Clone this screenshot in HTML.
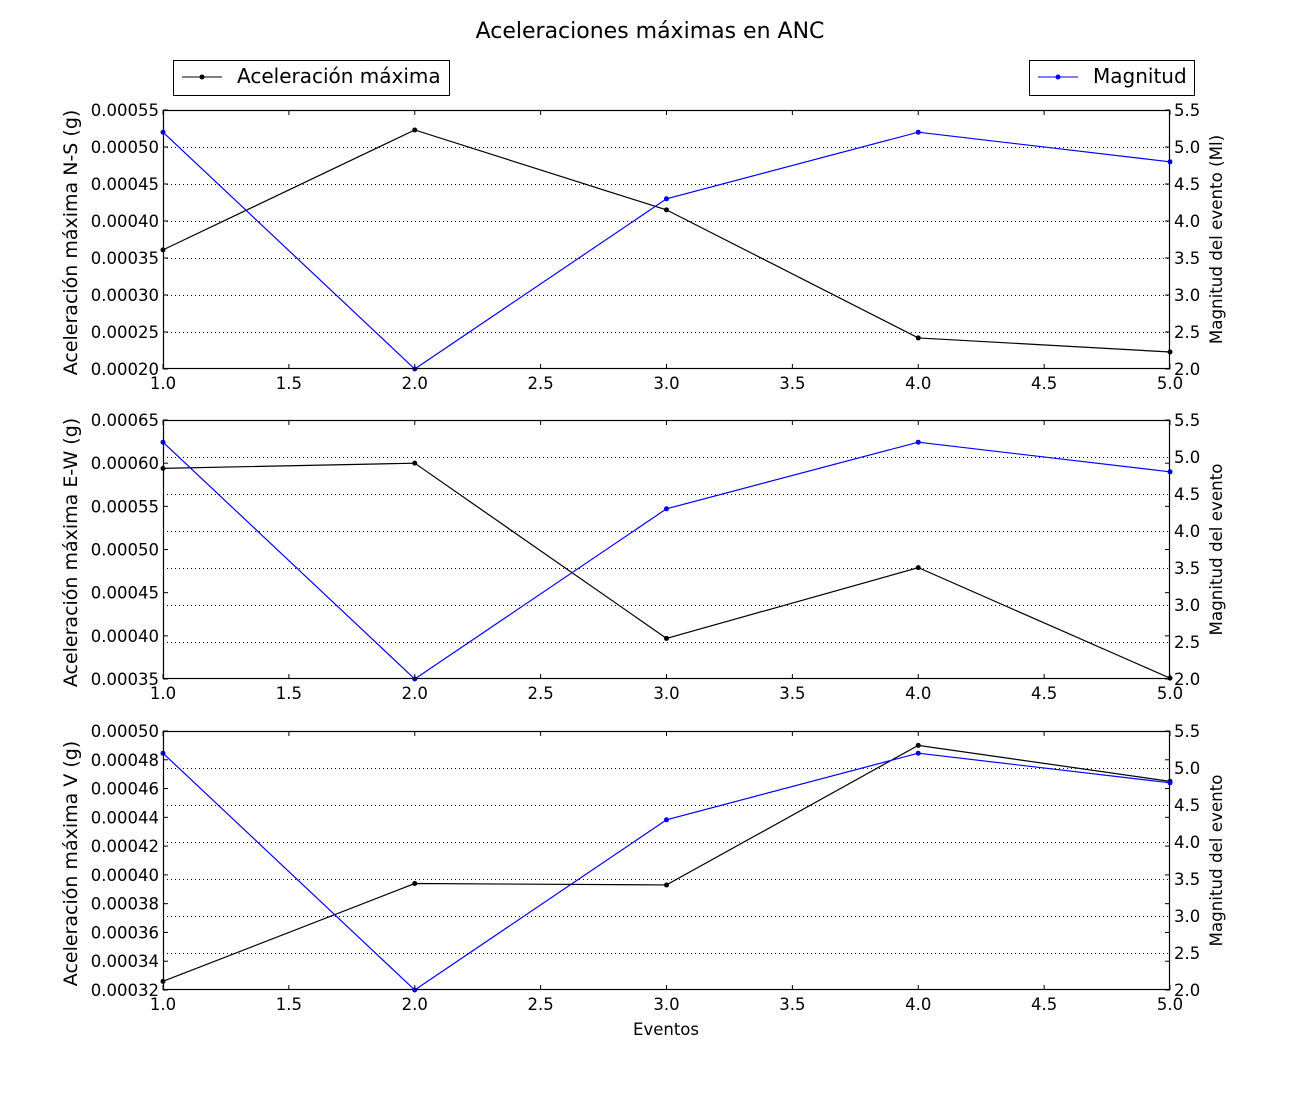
<!DOCTYPE html>
<html><head><meta charset="utf-8"><style>
html,body{margin:0;padding:0;background:#fff;}
svg{display:block;font-family:"DejaVu Sans","Liberation Sans",sans-serif;}
</style></head><body>
<svg id="chart" width="1300" height="1100">
<text x="650" y="38" text-anchor="middle" font-size="22">Aceleraciones máximas en ANC</text>
<g>
<rect x="173.5" y="60.5" width="276" height="35" fill="#fff" stroke="#000"/>
<line x1="182" y1="77" x2="222" y2="77" stroke="#000"/><circle cx="202" cy="77" r="2.5"/>
<text x="237" y="83" font-size="20">Aceleración máxima</text>
</g>
<g>
<rect x="1029.5" y="60.5" width="165" height="35" fill="#fff" stroke="#000"/>
<line x1="1038" y1="77" x2="1078" y2="77" stroke="#00f"/><circle cx="1058" cy="77" r="2.5" fill="#00f"/>
<text x="1093" y="83" font-size="20">Magnitud</text>
</g>
<text x="666" y="1035" text-anchor="middle" font-size="16.5">Eventos</text>
</svg>
<script>
const events = [1, 2, 3, 4, 5];
const xTicks = [1.0, 1.5, 2.0, 2.5, 3.0, 3.5, 4.0, 4.5, 5.0];
const magnitude = [5.2, 2.0, 4.3, 5.2, 4.8];
const magTicks = [2.0, 2.5, 3.0, 3.5, 4.0, 4.5, 5.0, 5.5];
const accNS = [0.000361, 0.000523, 0.000415, 0.000242, 0.000223];
const accEW = [0.000594, 0.000600, 0.000397, 0.000479, 0.000351];
const accV = [0.000326, 0.000394, 0.000393, 0.000490, 0.000465];
const ticksNS = [0.00020, 0.00025, 0.00030, 0.00035, 0.00040, 0.00045, 0.00050, 0.00055];
const ticksEW = [0.00035, 0.00040, 0.00045, 0.00050, 0.00055, 0.00060, 0.00065];
const ticksV = [0.00032, 0.00034, 0.00036, 0.00038, 0.00040, 0.00042, 0.00044, 0.00046, 0.00048, 0.00050];

const svg = document.getElementById('chart');
const NS = 'http://www.w3.org/2000/svg';
function mk(tag, attrs, parent) {
  const e = document.createElementNS(NS, tag);
  for (const k in attrs) e.setAttribute(k, attrs[k]);
  (parent || svg).appendChild(e);
  return e;
}
const L = 163, R = 1170;
const panels = [
  {top: 110, bot: 369, data: accNS, ticks: ticksNS, dec: 5, label: 'Aceleración máxima N-S (g)', rlabel: 'Magnitud del evento (Ml)', name: 'ns'},
  {top: 420, bot: 679, data: accEW, ticks: ticksEW, dec: 5, label: 'Aceleración máxima E-W (g)', rlabel: 'Magnitud del evento', name: 'ew'},
  {top: 731, bot: 990, data: accV, ticks: ticksV, dec: 5, label: 'Aceleración máxima V (g)', rlabel: 'Magnitud del evento', name: 'v'}
];
const xS = v => L + (v - 1) / 4 * (R - L);
panels.forEach(p => {
  const g = mk('g', {});
  
  
  const lo = p.ticks[0], hi = p.ticks[p.ticks.length - 1];
  const yL = v => p.bot - (v - lo) / (hi - lo) * (p.bot - p.top);
  const yR = v => p.bot - (v - 2) / 3.5 * (p.bot - p.top);
  magTicks.slice(1, -1).forEach(t => {
    const y = Math.round(yR(t)) + 0.5;
    const gl = mk('line', {x1: L, x2: R, y1: y, y2: y, stroke: '#000', 'stroke-dasharray': '1,3', 'stroke-width': 1}, g);
    
    
  });
  p.ticks.forEach(t => {
    const y = yL(t);
    mk('line', {x1: L, x2: L + 5, y1: y, y2: y, stroke: '#000'}, g);
    mk('line', {x1: R, x2: R - 5, y1: y, y2: y, stroke: '#000'}, g);
    const tx = mk('text', {x: L - 4, y: y + 6, 'text-anchor': 'end', 'font-size': 16.5}, g);
    tx.textContent = t.toFixed(p.dec);
    
    
  });
  magTicks.forEach(t => {
    const y = yR(t);
    const tx = mk('text', {x: R + 4, y: y + 6, 'font-size': 16.5}, g);
    tx.textContent = t.toFixed(1);
    
    
  });
  xTicks.forEach(t => {
    const x = xS(t);
    mk('line', {x1: x, x2: x, y1: p.bot, y2: p.bot - 5, stroke: '#000'}, g);
    mk('line', {x1: x, x2: x, y1: p.top, y2: p.top + 5, stroke: '#000'}, g);
    const tx = mk('text', {x: x, y: p.bot + 20, 'text-anchor': 'middle', 'font-size': 16.5}, g);
    tx.textContent = t.toFixed(1);
    
    
  });
  const acc = mk('polyline', {points: p.data.map((v, i) => xS(events[i]) + ',' + yL(v)).join(' '), fill: 'none', stroke: '#000', 'stroke-width': 1.2}, g);
  
  
  p.data.forEach((v, i) => {
    const c = mk('circle', {cx: xS(events[i]), cy: yL(v), r: 2.5, fill: '#000'}, g);
    
    
  });
  const mag = mk('polyline', {points: magnitude.map((v, i) => xS(events[i]) + ',' + yR(v)).join(' '), fill: 'none', stroke: '#00f', 'stroke-width': 1.2}, g);
  
  
  magnitude.forEach((v, i) => {
    const c = mk('circle', {cx: xS(events[i]), cy: yR(v), r: 2.5, fill: '#00f'}, g);
    
    
  });
  mk('rect', {x: L + 0.5, y: p.top + 0.5, width: R - L - 1, height: p.bot - p.top - 1, fill: 'none', stroke: '#000', 'stroke-width': 1.2}, g);
  const cy = (p.top + p.bot) / 2 + 3;
  const yl = mk('text', {x: 77, y: cy, 'text-anchor': 'middle', 'font-size': 19, transform: 'rotate(-90 77 ' + cy + ')'}, g);
  yl.textContent = p.label;
  
  
  const cy2 = (p.top + p.bot) / 2;
  const yr = mk('text', {x: 1222, y: cy2, 'text-anchor': 'middle', 'font-size': 16.7, transform: 'rotate(-90 1222 ' + cy2 + ')'}, g);
  yr.textContent = p.rlabel;
  
  
});
</script>
</body></html>
